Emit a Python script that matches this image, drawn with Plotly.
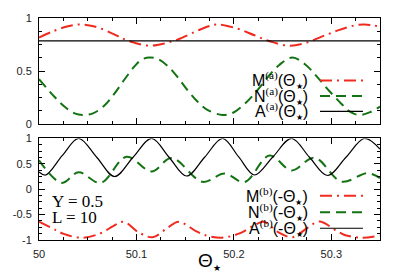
import plotly.graph_objects as go

# ---------------- data ----------------
# top panel
theta_top_M = [50.0, 50.0127, 50.0297, 50.0435, 50.0571, 50.0743, 50.0879, 50.0982, 50.1135,
               50.1290, 50.1426, 50.1597, 50.1733, 50.1836, 50.2038, 50.2212, 50.2384, 50.2571,
               50.2725, 50.2896, 50.3067, 50.3238, 50.3341, 50.35]
M_a = [0.816, 0.868, 0.923, 0.939, 0.920, 0.858, 0.798, 0.766, 0.739,
       0.761, 0.798, 0.868, 0.920, 0.939, 0.899, 0.837, 0.776, 0.739,
       0.761, 0.822, 0.883, 0.930, 0.939, 0.920]

theta_top_N = [50.0, 50.0161, 50.0264, 50.0366, 50.0451, 50.0554, 50.0674, 50.0772, 50.0879,
               50.0982, 50.1050, 50.1135, 50.1221, 50.1323, 50.1426, 50.1528, 50.1631, 50.1733,
               50.1884, 50.1987, 50.2110, 50.2233, 50.2346, 50.2469, 50.2602, 50.2736, 50.2859,
               50.2982, 50.3105, 50.3187, 50.3279, 50.3392, 50.35]
N_a = [0.423, 0.255, 0.163, 0.101, 0.086, 0.101, 0.178, 0.285, 0.423,
       0.546, 0.607, 0.628, 0.613, 0.546, 0.439, 0.316, 0.209, 0.132,
       0.086, 0.105, 0.190, 0.310, 0.440, 0.560, 0.628, 0.560, 0.440,
       0.310, 0.190, 0.120, 0.086, 0.110, 0.166]

theta_top_A = [50.0, 50.35]
A_a = [0.785, 0.785]

# bottom panel
theta_bot_A = [50.0, 50.0069, 50.0238, 50.0407, 50.0592, 50.0776, 50.0966, 50.1156, 50.1335,
               50.1515, 50.1700, 50.1884, 50.2048, 50.2212, 50.2402, 50.2592, 50.2776, 50.2961,
               50.3151, 50.3341, 50.35]
A_b = [0.34, 0.28, 0.66, 1.0, 0.63, 0.25, 0.63, 1.0, 0.63,
       0.26, 0.63, 1.0, 0.64, 0.28, 0.64, 1.0, 0.63, 0.27,
       0.63, 1.0, 0.79]

theta_bot_N = [50.0, 50.0233, 50.0407, 50.0633, 50.0899, 50.1156, 50.1361, 50.1679, 50.1905,
               50.2110, 50.2366, 50.2592, 50.2828, 50.3105, 50.3371, 50.35]
N_b = [0.57, 0.125, 0.335, 0.125, 0.64, 0.35, 0.615, 0.145, 0.31,
       0.14, 0.665, 0.37, 0.62, 0.15, 0.315, 0.22]

theta_bot_M = [50.0, 50.0168, 50.0253, 50.0438, 50.0630, 50.0766, 50.0869, 50.1023, 50.1166,
               50.1320, 50.1433, 50.1606, 50.1699, 50.1874, 50.2058, 50.2202, 50.2305, 50.2459,
               50.2602, 50.2756, 50.2879, 50.3053, 50.3136, 50.3310, 50.35]
M_b = [-0.64, -0.80, -0.88, -0.955, -0.87, -0.72, -0.64, -0.85, -0.945,
       -0.76, -0.64, -0.82, -0.90, -0.955, -0.87, -0.72, -0.64, -0.85,
       -0.945, -0.76, -0.635, -0.82, -0.90, -0.955, -0.91]

x_tickvals = [50, 50.1, 50.2, 50.3]
x_ticktext = ["50", "50.1", "50.2", "50.3"]
y_top_tickvals = [0, 0.5, 1]
y_top_ticktext = ["0", "0.5", "1"]
y_bot_tickvals = [-1, -0.5, 0, 0.5, 1]
y_bot_ticktext = ["-1", "-0.5", "0", "0.5", "1"]

# ---------------- styles ----------------
RED = "#f02a1e"
GREEN = "#137313"
BLACK = "#000000"
RED_DASH = "12px,5px,2px,5px"
GREEN_DASH = "10px,6px"

fig = go.Figure()

def add(x, y, color, dash, width, xa, ya):
    fig.add_trace(go.Scatter(x=x, y=y, mode="lines", xaxis=xa, yaxis=ya,
                             line=dict(color=color, dash=dash, width=width,
                                       shape="spline", smoothing=1.0),
                             showlegend=False, hoverinfo="skip"))

add(theta_top_M, M_a, RED, RED_DASH, 2, "x", "y")
add(theta_top_N, N_a, GREEN, GREEN_DASH, 2, "x", "y")
add(theta_top_A, A_a, BLACK, "solid", 1.2, "x", "y")
add(theta_bot_M, M_b, RED, RED_DASH, 2, "x2", "y2")
add(theta_bot_N, N_b, GREEN, GREEN_DASH, 2, "x2", "y2")
add(theta_bot_A, A_b, BLACK, "solid", 1.2, "x2", "y2")

tickfont = dict(family="Liberation Sans, Arial, sans-serif", size=11, color="#222")
common = dict(showline=True, linecolor="black", linewidth=1, mirror="allticks",
              ticks="inside", ticklen=6, tickcolor="black", tickwidth=1,
              showgrid=False, zeroline=False, tickfont=tickfont)

fig.update_layout(
    width=395, height=276,
    margin=dict(l=39, r=15, t=12, b=36),
    paper_bgcolor="white", plot_bgcolor="white",
    xaxis=dict(domain=[0, 1], range=[50, 50.35], anchor="y", showticklabels=False,
               tickvals=x_tickvals,
               minor=dict(dtick=0.025, tick0=50, ticks="inside", ticklen=3, tickcolor="black"),
               **common),
    yaxis=dict(domain=[0.522, 1.0], range=[0, 1], anchor="x",
               tickvals=y_top_tickvals, ticktext=y_top_ticktext, ticklabelstandoff=4,
               minor=dict(dtick=0.125, tick0=0, ticks="inside", ticklen=3, tickcolor="black"),
               **common),
    xaxis2=dict(domain=[0, 1], range=[50, 50.35], anchor="y2", matches="x",
                tickvals=x_tickvals, ticktext=x_ticktext, ticklabelstandoff=4,
                minor=dict(dtick=0.025, tick0=50, ticks="inside", ticklen=3, tickcolor="black"),
                **common),
    yaxis2=dict(domain=[0, 0.4575], range=[-1, 1], anchor="x2",
                tickvals=y_bot_tickvals, ticktext=y_bot_ticktext, ticklabelstandoff=4,
                minor=dict(dtick=0.125, tick0=-1, ticks="inside", ticklen=3, tickcolor="black"),
                **common),
)

STAR = '<sub><span style="font-size:8px">★</span></sub>'
SERIF = 'font-family:Liberation Serif, Times New Roman, serif'

def leg_text(letter, sup, minus):
    return (f'{letter}<sup><span style="{SERIF}">({sup})</span></sup>'
            f'({"-" if minus else ""}Θ{STAR})')

legend_font = dict(family="Liberation Sans, Arial, sans-serif", size=16, color="black")
rows_top = [0.719, 0.649, 0.579]
rows_bot = [0.199, 0.125, 0.053]
letters = ["M", "N", "A"]
styles = [(RED, RED_DASH, 2), (GREEN, GREEN_DASH, 2), (BLACK, "solid", 1.2)]

for rows, sup, minus in [(rows_top, "a", False), (rows_bot, "b", True)]:
    for yv, L, (c, d, w) in zip(rows, letters, styles):
        fig.add_annotation(xref="paper", yref="paper", x=0.795, y=yv,
                           xanchor="right", yanchor="middle", showarrow=False,
                           text=leg_text(L, sup, minus), font=legend_font)
        fig.add_shape(type="line", xref="paper", yref="paper",
                      x0=0.824, x1=0.950, y0=yv, y1=yv,
                      line=dict(color=c, dash=d, width=w))

serif_font = dict(family="Liberation Serif, Times New Roman, serif", size=17, color="black")
fig.add_annotation(xref="paper", yref="paper", x=0.032, y=0.173, xanchor="left",
                   yanchor="middle", showarrow=False, text="Y = 0.5", font=serif_font)
fig.add_annotation(xref="paper", yref="paper", x=0.032, y=0.101, xanchor="left",
                   yanchor="middle", showarrow=False, text="L = 10", font=serif_font)

fig.add_annotation(xref="paper", yref="paper", x=0.5, y=-0.095, xanchor="center",
                   yanchor="middle", showarrow=False,
                   text='Θ<sub><span style="font-size:9px">★</span></sub>',
                   font=dict(family="Liberation Sans, Arial, sans-serif", size=19, color="black"))

fig.write_html("out.html", config={"displayModeBar": False},
               post_script="document.body.style.margin='0';")
